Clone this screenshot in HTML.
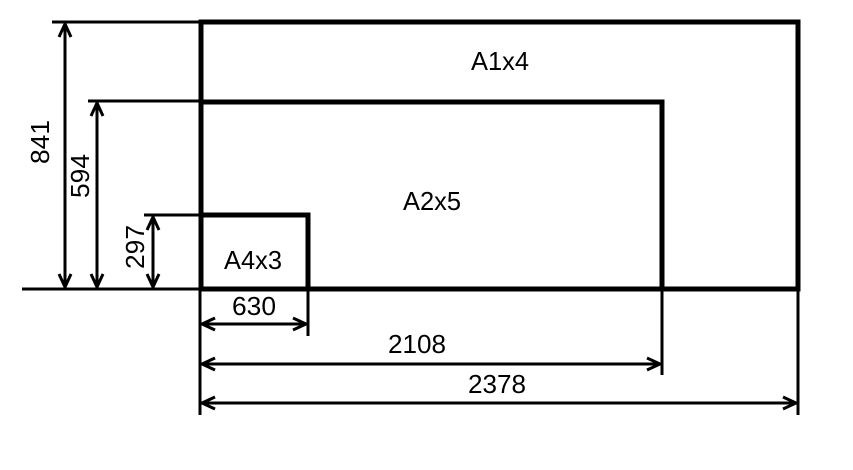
<!DOCTYPE html>
<html><head><style>html,body{margin:0;padding:0;background:#fff;}svg{display:block}</style></head>
<body>
<svg width="853" height="470" viewBox="0 0 853 470" xmlns="http://www.w3.org/2000/svg" font-family="Liberation Sans, sans-serif" font-size="26" fill="#000">
<g stroke="#000" fill="none">
<rect x="201" y="22" width="597" height="267" stroke-width="5"/>
<polyline points="201,102 662,102 662,289" stroke-width="5"/>
<polyline points="201,215 308,215 308,289" stroke-width="5"/>
<g stroke-width="3">
<line x1="52" y1="22" x2="201" y2="22"/>
<line x1="88" y1="101" x2="201" y2="101"/>
<line x1="144" y1="215" x2="201" y2="215"/>
<line x1="22" y1="289" x2="201" y2="289"/>
<line x1="200" y1="289" x2="200" y2="415"/>
<line x1="308" y1="289" x2="308" y2="336"/>
<line x1="662" y1="289" x2="662" y2="375"/>
<line x1="798" y1="289" x2="798" y2="415"/>
<line x1="65" y1="24" x2="65" y2="287"/>
<line x1="97" y1="103" x2="97" y2="287"/>
<line x1="153" y1="217" x2="153" y2="287"/>
<line x1="202" y1="324" x2="306" y2="324"/>
<line x1="202" y1="364" x2="660" y2="364"/>
<line x1="202" y1="403" x2="796" y2="403"/>
<polyline points="59,37 65,24 71,37"/><polyline points="59,274 65,287 71,274"/>
<polyline points="91,116 97,103 103,116"/><polyline points="91,274 97,287 103,274"/>
<polyline points="147,230 153,217 159,230"/><polyline points="147,274 153,287 159,274"/>
<polyline points="215,318 202,324 215,330"/><polyline points="293,318 306,324 293,330"/>
<polyline points="215,358 202,364 215,370"/><polyline points="647,358 660,364 647,370"/>
<polyline points="215,397 202,403 215,409"/><polyline points="783,397 796,403 783,409"/>
</g>
</g>
<g text-anchor="middle">
<text x="500" y="70" textLength="58" lengthAdjust="spacingAndGlyphs">A1x4</text>
<text x="432" y="210" textLength="58" lengthAdjust="spacingAndGlyphs">A2x5</text>
<text x="253" y="269" textLength="58" lengthAdjust="spacingAndGlyphs">A4x3</text>
<text x="254" y="315" textLength="44" lengthAdjust="spacingAndGlyphs">630</text>
<text x="417" y="353" textLength="58" lengthAdjust="spacingAndGlyphs">2108</text>
<text x="497" y="393" textLength="58" lengthAdjust="spacingAndGlyphs">2378</text>
<text transform="translate(49,142) rotate(-90)" textLength="44" lengthAdjust="spacingAndGlyphs">841</text>
<text transform="translate(89,176) rotate(-90)" textLength="44" lengthAdjust="spacingAndGlyphs">594</text>
<text transform="translate(144,247) rotate(-90)" textLength="44" lengthAdjust="spacingAndGlyphs">297</text>
</g>
</svg>
</body></html>
